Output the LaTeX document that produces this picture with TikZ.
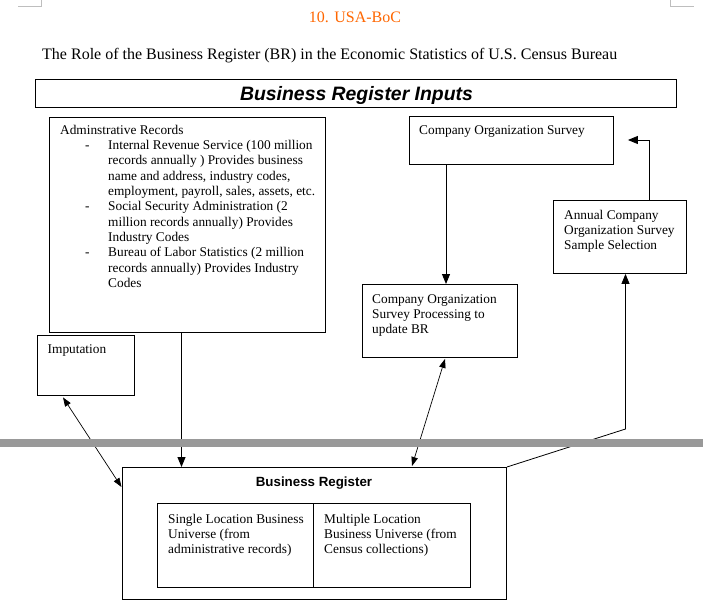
\documentclass[tikz,border=0pt]{standalone}
\usepackage{fontspec}
\setmainfont{Liberation Serif}
\setsansfont{Liberation Sans}
\usetikzlibrary{arrows.meta}
\definecolor{titleorange}{RGB}{255,102,0}
\definecolor{bargray}{RGB}{153,153,153}
\definecolor{markgray}{RGB}{190,190,190}
\newcommand{\bodyfont}{\fontsize{13.33}{15.33}\selectfont}
\tikzset{
  box/.style={draw, line width=0.9pt, inner sep=0pt, anchor=north west},
  txt/.style={anchor=north west, inner sep=0pt, align=left, font=\bodyfont},
  arr/.style={line width=0.9pt, -{Triangle[length=10pt,width=8pt]}},
  darr/.style={line width=0.7pt, {Triangle[length=9pt,width=6.5pt]}-{Triangle[length=9pt,width=6.5pt]}},
  thinln/.style={line width=0.8pt},
}
\begin{document}
\begin{tikzpicture}[x=1pt,y=-1pt]
\useasboundingbox (0,0) rectangle (703,608);
% corner marks
\coordinate (cl1) at (41,0); \coordinate (cl2) at (41,6); \coordinate (cl3) at (18,6);
\coordinate (cr1) at (670,0); \coordinate (cr2) at (670,6); \coordinate (cr3) at (694,6);
\draw[markgray, line width=0.8pt] (cl1) -- (cl2) -- (cl3);
\draw[markgray, line width=0.8pt] (cr1) -- (cr2) -- (cr3);
% titles
\node[anchor=base, inner sep=0pt, font=\fontsize{16}{18}\selectfont, text=titleorange] (title) at (355,22.7) {10. USA-BoC};
\node[anchor=base west, inner sep=0pt, font=\fontsize{16}{18}\selectfont] (subtitle) at (42,59) {The Role of the Business Register (BR) in the Economic Statistics of U.S. Census Bureau};
% inputs box
\node[box, minimum width=641pt, minimum height=28pt] (inputs) at (35,79) {};
\node[anchor=base, inner sep=0pt, font=\sffamily\bfseries\itshape\fontsize{19.4}{22}\selectfont] (inputstxt) at (356.5,100) {Business Register Inputs};
% admin records
\node[box, minimum width=276pt, minimum height=215pt] (admin) at (49,117) {};
\node[txt] (admhead) at (60,123.3) {\strut Adminstrative Records};
\node[txt] (admbody) at (85,138.6) {\strut\makebox[23pt][l]{-}Internal Revenue Service (100 million\\
\hspace*{23pt}records annually ) Provides business\\
\hspace*{23pt}name and address, industry codes,\\
\hspace*{23pt}employment, payroll, sales, assets, etc.\\
\makebox[23pt][l]{-}Social Security Administration (2\\
\hspace*{23pt}million records annually) Provides\\
\hspace*{23pt}Industry Codes\\
\makebox[23pt][l]{-}Bureau of Labor Statistics (2 million\\
\hspace*{23pt}records annually) Provides Industry\\
\hspace*{23pt}Codes};
% company organization survey
\node[box, minimum width=204pt, minimum height=48pt] (cos) at (409,116) {};
\node[txt] (costxt) at (419,123.3) {\strut Company Organization Survey};
% COS processing
\node[box, minimum width=155pt, minimum height=73pt] (cosp) at (362,284) {};
\node[txt] (cosptxt) at (372,292.3) {\strut Company Organization\\Survey Processing to\\update BR};
% annual
\node[box, minimum width=133pt, minimum height=73pt] (annual) at (553,200) {};
\node[txt] (annualtxt) at (564,208.3) {\strut Annual Company\\Organization Survey\\Sample Selection};
% imputation
\node[box, minimum width=97pt, minimum height=60pt] (imp) at (37,335) {};
\node[txt] (imptxt) at (47.5,342.3) {\strut Imputation};
% business register
\node[box, minimum width=384.5pt, minimum height=132pt] (br) at (121.5,467) {};
\node[anchor=base, inner sep=0pt, font=\sffamily\bfseries\fontsize{13.33}{15.33}\selectfont] (brtxt) at (314,486) {Business Register};
\node[box, minimum width=312.5pt, minimum height=84pt] (inner) at (157,503) {};
\draw[line width=0.9pt] (inner.north) -- (inner.south);
\node[txt] (single) at (168,512.3) {\strut Single Location Business\\Universe (from\\administrative records)};
\node[txt] (multi) at (324,512.3) {\strut Multiple Location\\Business Universe (from\\Census collections)};
% connectors
\draw[arr] ([xshift=132.5pt]admin.south west) -- ([xshift=132.5pt]admin.south west |- br.north);
\draw[arr] ([xshift=37pt]cos.south west) -- ([xshift=37pt]cos.south west |- cosp.north);
\draw[arr] ([xshift=96pt]annual.north west) |- ([xshift=14pt,yshift=-24pt]cos.north east);
\coordinate (bend) at (625.5,429);
\draw[thinln, -{Triangle[length=10pt,width=8pt]}] (br.north east) -- (bend) -- (bend |- annual.south);
\draw[darr] ([xshift=26pt,yshift=-1.5pt]imp.south west) -- ([yshift=-20pt]br.north west);
\draw[darr] ([xshift=83pt,yshift=-1pt]cosp.south west) -- ([xshift=290.5pt,yshift=1pt]br.north west);
% gray bar
\fill[bargray] (0,439) rectangle (703,447);
\end{tikzpicture}
\end{document}
